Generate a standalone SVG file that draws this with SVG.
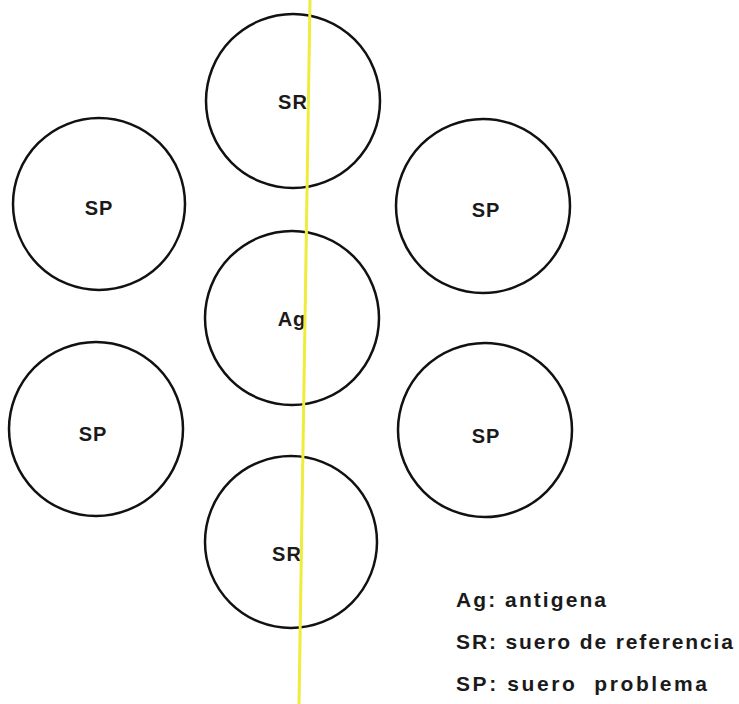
<svg xmlns="http://www.w3.org/2000/svg" width="739" height="704" viewBox="0 0 739 704">
<style>
.well{fill:none;stroke:#111;stroke-width:2.5}
.lbl{font-family:"Liberation Sans",Arial,sans-serif;font-size:20px;font-weight:bold;fill:#1a1a1a;text-anchor:middle;letter-spacing:1px}
.leg{font-family:"Liberation Sans",Arial,sans-serif;font-size:21px;font-weight:bold;fill:#1a1a1a}
</style>
<rect width="739" height="704" fill="#fff"/>
<g id="sr-top"><circle class="well" cx="293" cy="101" r="87"/><text class="lbl" x="293" y="109">SR</text></g>
<g id="sp-left-top"><circle class="well" cx="99" cy="204" r="86"/><text class="lbl" x="99" y="215">SP</text></g>
<g id="sp-right-top"><circle class="well" cx="483" cy="206" r="87"/><text class="lbl" x="486" y="217">SP</text></g>
<g id="ag"><circle class="well" cx="292" cy="318" r="87"/><text class="lbl" x="292" y="326">Ag</text></g>
<g id="sp-left-bottom"><circle class="well" cx="96" cy="429" r="87"/><text class="lbl" x="93" y="441">SP</text></g>
<g id="sp-right-bottom"><circle class="well" cx="485" cy="430" r="87"/><text class="lbl" x="486" y="443">SP</text></g>
<g id="sr-bottom"><circle class="well" cx="291" cy="542" r="86"/><text class="lbl" x="287" y="561">SR</text></g>
<g id="connectors"><line x1="310" y1="0" x2="299" y2="704" stroke="#f0ec3c" stroke-width="3"/></g>
<g id="legend">
<text class="leg" x="456" y="607" textLength="150" lengthAdjust="spacing">Ag: antigena</text>
<text class="leg" x="456" y="649" textLength="277" lengthAdjust="spacing">SR: suero de referencia</text>
<text class="leg" x="456" y="691" xml:space="preserve" textLength="251" lengthAdjust="spacing">SP: suero  problema</text>
</g>
</svg>
